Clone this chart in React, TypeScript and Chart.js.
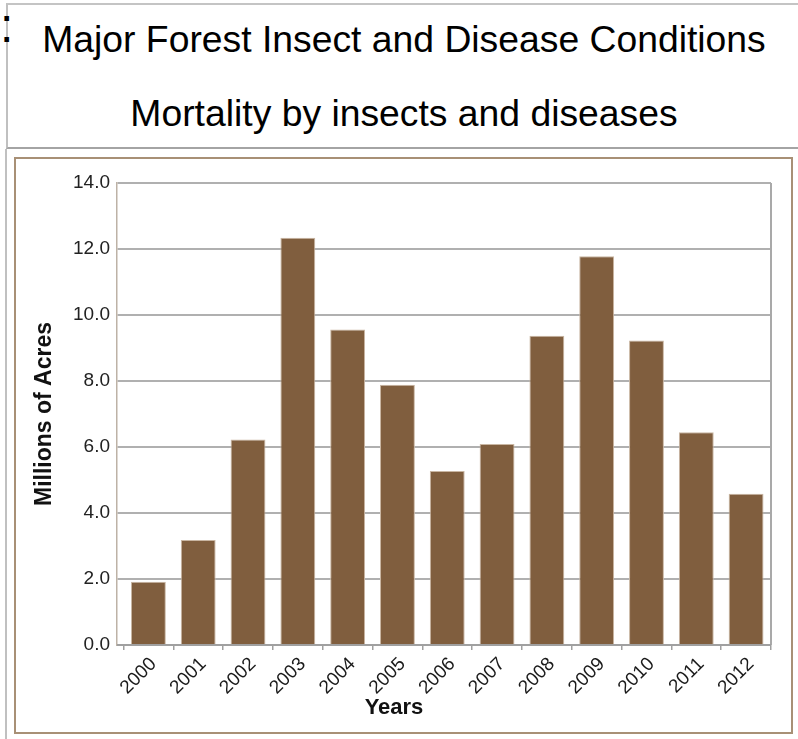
import { useEffect, useRef } from "react";
import { Chart, registerables } from "chart.js";

Chart.register(...registerables);

const mainTitle = "Major Forest Insect and Disease Conditions";
const subTitle = "Mortality by insects and diseases";
const yAxisTitle = "Millions of Acres";
const xAxisTitle = "Years";

const years = ["2000", "2001", "2002", "2003", "2004", "2005", "2006", "2007", "2008", "2009", "2010", "2011", "2012"];
const mortality = [1.92, 3.18, 6.23, 12.34, 9.56, 7.89, 5.27, 6.09, 9.37, 11.78, 9.23, 6.45, 4.58];
const yMin = 0;
const yMax = 14;
const yStep = 2;

const FONT = "'Liberation Sans', Arial, sans-serif";
const X_INSET = 6.5;

const framePlugin = {
  id: "frameLines",
  afterLayout(chart: any) {
    const x = chart.scales.x;
    if (!x) return;
    x.left = chart.chartArea.left + X_INSET;
    x.width = x.right - x.left;
    x.configure();
  },
  beforeDatasetsDraw(chart: any) {
    const { ctx, chartArea } = chart;
    ctx.save();
    ctx.strokeStyle = "#a9a9a9";
    ctx.lineWidth = 2;
    ctx.beginPath();
    ctx.moveTo(chartArea.right, chartArea.top);
    ctx.lineTo(chartArea.right, chartArea.bottom);
    ctx.stroke();
    ctx.strokeStyle = "#a0a0a0";
    ctx.beginPath();
    ctx.moveTo(chartArea.left, chartArea.bottom);
    ctx.lineTo(chartArea.right, chartArea.bottom);
    ctx.stroke();
    ctx.restore();
  },
};

function BarChart() {
  const ref = useRef<HTMLCanvasElement | null>(null);
  useEffect(() => {
    if (!ref.current) return;
    const chart = new Chart(ref.current, {
      type: "bar",
      data: {
        labels: years,
        datasets: [
          {
            label: "Mortality",
            data: mortality,
            backgroundColor: "#805e3e",
            borderColor: "#c9b6a2",
            borderWidth: 1,
            barPercentage: 0.7,
            categoryPercentage: 1.0,
          },
        ],
      },
      options: {
        animation: false,
        responsive: false,
        maintainAspectRatio: false,
        layout: { padding: { top: 24, right: 20, left: 12, bottom: 0 } },
        plugins: {
          legend: { display: false },
          tooltip: { enabled: false },
          title: { display: false },
        },
        scales: {
          x: {
            afterFit: (s: any) => {
              s.height = 87;
            },
            grid: {
              display: true,
              drawOnChartArea: false,
              drawTicks: true,
              tickLength: 5,
              color: "#a0a0a0",
              lineWidth: 1.5,
            },
            border: { display: false },
            ticks: {
              minRotation: 45,
              maxRotation: 45,
              padding: 3,
              labelOffset: 5,
              color: "#1a1a1a",
              font: { family: FONT, size: 19 },
              autoSkip: false,
            },
          },
          y: {
            min: yMin,
            max: yMax,
            afterFit: (s: any) => {
              s.width = 89;
            },
            ticks: {
              stepSize: yStep,
              padding: 7,
              color: "#222",
              font: { family: FONT, size: 19 },
              callback: (v: any) => Number(v).toFixed(1),
            },
            grid: {
              color: "#b0b0b0",
              lineWidth: 2,
              drawTicks: false,
            },
            border: { display: true, color: "#bdb2a6", width: 1.5 },
            title: {
              display: true,
              text: yAxisTitle,
              color: "#111",
              font: { family: FONT, size: 23, weight: "bold" },
              padding: { top: 3, bottom: 4 },
            },
          },
        },
      },
      plugins: [framePlugin],
    });
    return () => chart.destroy();
  }, []);
  return <canvas ref={ref} width={775} height={573} style={{ display: "block" }} />;
}

export default function App() {
  return (
    <div
      style={{
        position: "absolute",
        left: 0,
        top: 0,
        width: 798,
        height: 739,
        overflow: "hidden",
        background: "#fff",
        fontFamily: FONT,
      }}
    >
      <div
        style={{
          position: "absolute",
          left: 6,
          top: 3,
          width: 820,
          height: 142,
          borderTop: "2px solid #c4c4c4",
          borderLeft: "2px solid #c0c0c0",
          borderBottom: "2px solid #a4a4a4",
        }}
      />
      <div
        style={{
          position: "absolute",
          left: 5,
          top: 149,
          width: 2,
          height: 600,
          background: "#c0c0c0",
        }}
      />
      <div
        style={{
          position: "absolute",
          left: 0,
          top: 2,
          fontSize: 48,
          lineHeight: "48px",
          color: "#000",
        }}
      >
        :
      </div>
      <div
        style={{
          position: "absolute",
          left: 0,
          width: 808,
          top: 21.4,
          textAlign: "center",
          fontSize: 37.3,
          lineHeight: "37.3px",
          color: "#000",
          whiteSpace: "nowrap",
        }}
      >
        {mainTitle}
      </div>
      <div
        style={{
          position: "absolute",
          left: 0,
          width: 808,
          top: 95.4,
          textAlign: "center",
          fontSize: 37.3,
          lineHeight: "37.3px",
          color: "#000",
          whiteSpace: "nowrap",
        }}
      >
        {subTitle}
      </div>
      <div
        style={{
          position: "absolute",
          left: 14,
          top: 157,
          width: 775,
          height: 573,
          border: "2px solid #a89076",
        }}
      >
        <BarChart />
      </div>
      <div
        style={{
          position: "absolute",
          left: 344,
          width: 100,
          top: 696,
          textAlign: "center",
          fontSize: 22,
          lineHeight: "22px",
          fontWeight: "bold",
          color: "#111",
        }}
      >
        {xAxisTitle}
      </div>
    </div>
  );
}
